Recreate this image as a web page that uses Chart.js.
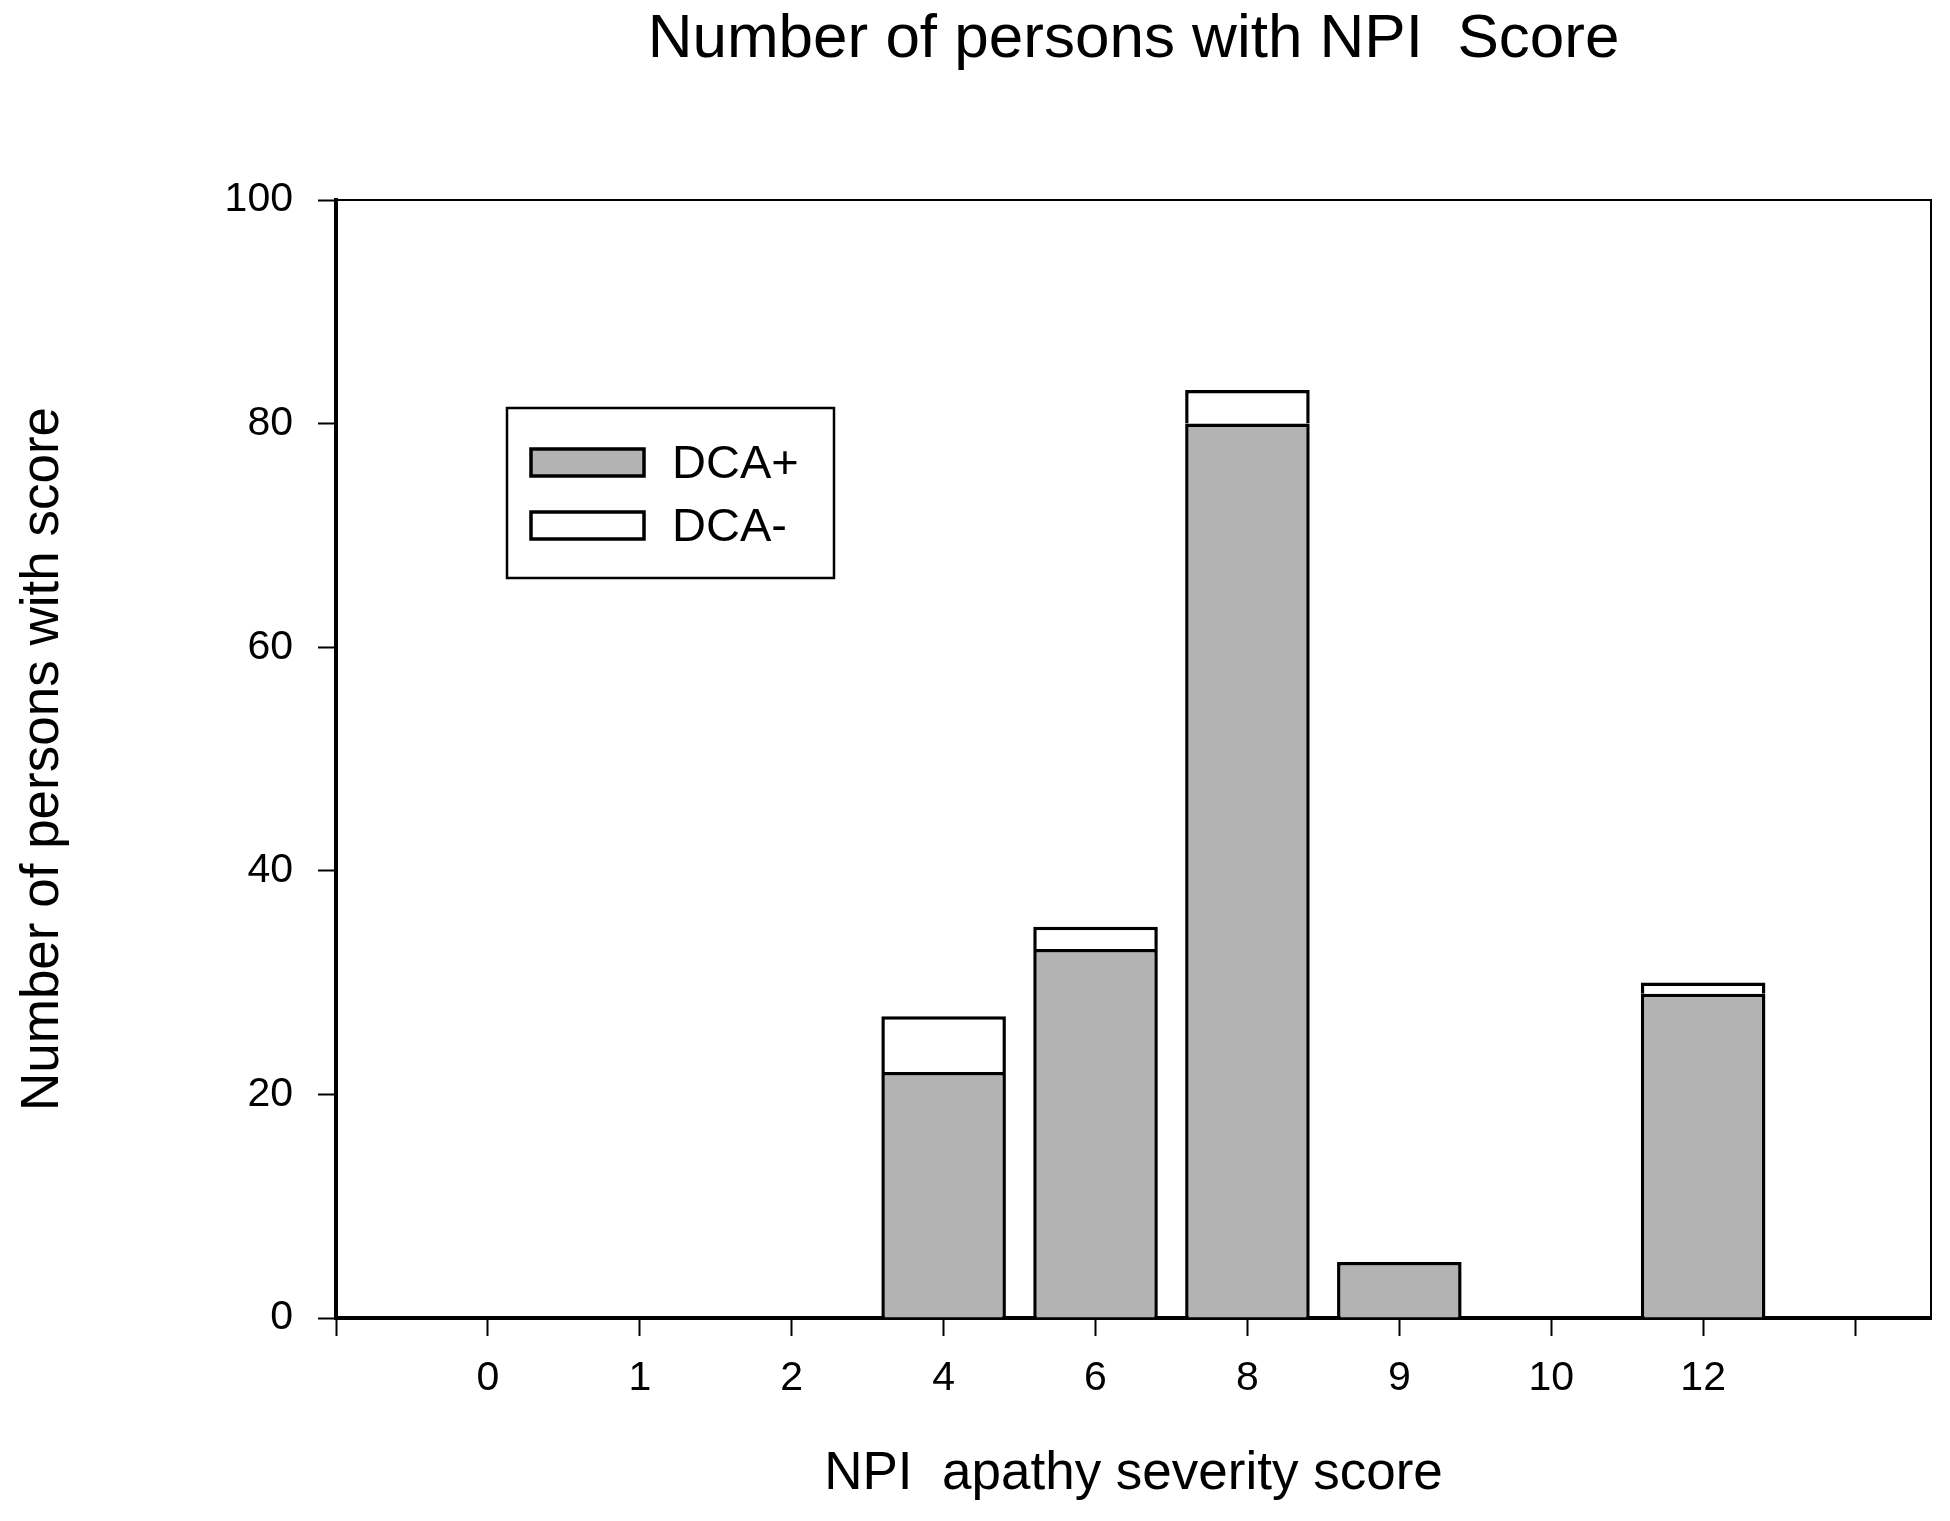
<!DOCTYPE html>
<html>
<head>
<meta charset="utf-8">
<title>Number of persons with NPI Score</title>
<script src="https://cdn.jsdelivr.net/npm/chart.js@4/dist/chart.umd.min.js"></script>
<style>
    body { margin: 0; background: #fff; }
    #chartBox { width: 1950px; height: 1521px; }
</style>
</head>
<body>
<div id="chartBox"><canvas id="npiChart" width="1950" height="1521"></canvas></div>
<script>
// NPI apathy severity scores (one bar slot each)
const scoreLabels = ['0', '1', '2', '4', '6', '8', '9', '10', '12'];
// Persons per score
const dcaPlus = [0, 0, 0, 22, 33, 80, 5, 0, 29];
const dcaMinus = [0, 0, 0, 5, 2, 3, 0, 0, 1];
// Y axis ticks
const yTicks = [0, 20, 40, 60, 80, 100];

const FONT = "'Liberation Sans', Arial, Helvetica, sans-serif";

// bar slot i sits at x = i on a linear axis, empty counts are left out
function toPoints(values) {
    return values.map((v, i) => ({ x: i, y: v === 0 ? null : v }));
}

// box round the plot (top + right edges are thinner)
const frame = {
    id: 'frame',
    afterDatasetsDraw(chart) {
        const { ctx, chartArea: a } = chart;
        ctx.save();
        ctx.strokeStyle = '#000';
        ctx.lineWidth = 2;
        ctx.beginPath();
        ctx.moveTo(a.left, a.top);
        ctx.lineTo(a.right, a.top);
        ctx.lineTo(a.right, a.bottom);
        ctx.stroke();
        ctx.restore();
    }
};

// legend drawn inside the plot, top left
const boxLegend = {
    id: 'boxLegend',
    afterDraw(chart) {
        const { ctx, chartArea: a } = chart;
        const x = a.left + 171, y = a.top + 208;
        ctx.save();
        ctx.strokeStyle = '#000';
        ctx.lineWidth = 2.5;
        ctx.strokeRect(x, y, 327, 170);
        ctx.font = '47px ' + FONT;
        ctx.textBaseline = 'middle';
        ctx.fillStyle = '#000';
        const rows = [41, 104];
        chart.data.datasets.forEach((ds, i) => {
            const sy = y + rows[i];
            ctx.fillStyle = ds.backgroundColor;
            ctx.fillRect(x + 24, sy, 113, 27);
            ctx.lineWidth = 3.5;
            ctx.strokeRect(x + 24, sy, 113, 27);
            ctx.fillStyle = '#000';
            ctx.fillText(ds.label, x + 165, sy + 16);
        });
        ctx.restore();
    }
};

function initNpiChart() {
    const ctx = document.getElementById('npiChart');

    new Chart(ctx, {
        type: 'bar',
        data: {
            datasets: [{
                label: 'DCA+',
                data: toPoints(dcaPlus),
                backgroundColor: '#b3b3b3',
                borderColor: '#000',
                borderWidth: 3.5
            }, {
                label: 'DCA-',
                data: toPoints(dcaMinus),
                backgroundColor: '#ffffff',
                borderColor: '#000',
                borderWidth: 3.5
            }]
        },
        options: {
            responsive: false,
            animation: false,
            devicePixelRatio: 1,
            categoryPercentage: 1,
            barPercentage: 0.82,
            layout: {
                padding: { left: 0, right: 19, top: 0, bottom: 0 }
            },
            plugins: {
                legend: { display: false },
                tooltip: { enabled: false },
                title: {
                    display: true,
                    fullSize: false,
                    text: 'Number of persons with NPI  Score',
                    color: '#000',
                    font: { family: FONT, size: 62, weight: 'normal', lineHeight: 1.2 },
                    padding: { top: 3, bottom: 122.6 }
                }
            },
            scales: {
                x: {
                    type: 'linear',
                    stacked: true,
                    offset: false,
                    min: -1,
                    max: 9.5,
                    afterFit(scale) { scale.height = 203; },
                    border: { display: true, color: '#000', width: 4 },
                    grid: {
                        offset: false,
                        drawOnChartArea: false,
                        drawTicks: true,
                        tickLength: 18,
                        tickColor: '#000',
                        tickWidth: 2
                    },
                    ticks: {
                        stepSize: 1,
                        includeBounds: false,
                        autoSkip: false,
                        maxRotation: 0,
                        padding: 18,
                        color: '#000',
                        font: { family: FONT, size: 41 },
                        callback: (v) => scoreLabels[v] ?? ''
                    },
                    title: {
                        display: true,
                        text: 'NPI  apathy severity score',
                        color: '#000',
                        font: { family: FONT, size: 53, lineHeight: 1.2 },
                        padding: { top: 0, bottom: 15 }
                    }
                },
                y: {
                    stacked: true,
                    min: yTicks[0],
                    max: yTicks[yTicks.length - 1],
                    afterFit(scale) { scale.width = 336; },
                    afterBuildTicks(scale) { scale.ticks = yTicks.map(v => ({ value: v })); },
                    border: { display: true, color: '#000', width: 4 },
                    grid: {
                        drawOnChartArea: false,
                        drawTicks: true,
                        tickLength: 18,
                        tickColor: '#000',
                        tickWidth: 2
                    },
                    ticks: {
                        padding: 25,
                        color: '#000',
                        font: { family: FONT, size: 41 }
                    },
                    title: {
                        display: true,
                        text: 'Number of persons with score',
                        color: '#000',
                        font: { family: FONT, size: 53, lineHeight: 1.2 },
                        padding: { top: 12, bottom: 0 }
                    }
                }
            }
        },
        plugins: [frame, boxLegend]
    });
}

document.addEventListener('DOMContentLoaded', initNpiChart);
</script>
</body>
</html>
